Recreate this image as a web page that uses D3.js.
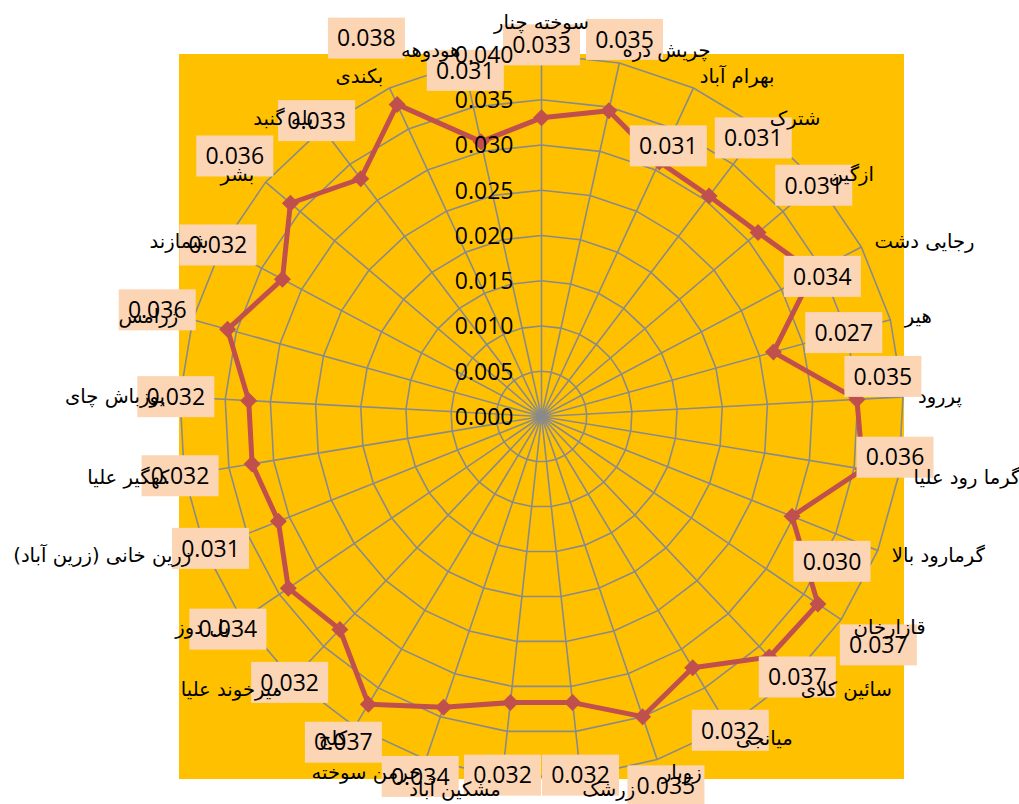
<!DOCTYPE html>
<html>
<head>
<meta charset="utf-8">
<script src="https://cdn.jsdelivr.net/npm/d3@7.9.0/dist/d3.min.js"></script>
<style>
  html, body { margin: 0; padding: 0; background: #fff; }
  svg { display: block; }
</style>
</head>
<body>
<div id="chart"></div>
<script>
// categories, clockwise from the top
const villages = [
  "سوخته چنار", "چریش دره", "بهرام آباد", "شترک", "ازگین", "رجایی دشت",
  "هیر", "پررود", "گرما رود علیا", "گرمارود بالا", "قازارخان", "سائین کلای",
  "میانجی", "زوبار", "زرشک", "مشکین آباد", "خرمن سوخته", "کلج",
  "میرخوند علیا", "بل دوز", "زرین خانی (زرین آباد)", "کهگیر علیا",
  "یوزباش چای", "ژرامس", "شمازند", "بشر", "پله گنبد", "بکندی", "هودوهه"
];

// series values
const values = [
  0.0330, 0.0346, 0.0310, 0.0306, 0.0314, 0.0340,
  0.0266, 0.0349, 0.0360, 0.0298, 0.0369, 0.0366,
  0.0324, 0.0350, 0.0318, 0.0318, 0.0339, 0.0371,
  0.0324, 0.0338, 0.0313, 0.0324,
  0.0324, 0.0360, 0.0324, 0.0364, 0.0330, 0.0380, 0.0311
];

// radial axis
const axisMax = 0.04;
const axisTicks = [0, 0.005, 0.010, 0.015, 0.020, 0.025, 0.030, 0.035, 0.040];

// labels that were dragged off their default spot (offset from the point)
const movedLabels = { 2: [9, -16], 5: [9, 4], 7: [26, -23], 8: [32, -12], 9: [40, 45], 11: [28, 20], 17: [-25, 38] };

const width = 1019;
const height = 804;
const cx = 541.5;
const cy = 416.5;
const R = 362;

const svg = d3.select("#chart")
  .append("svg")
  .attr("width", width)
  .attr("height", height);

// plot area fill
svg.append("rect")
  .attr("x", 179).attr("y", 54)
  .attr("width", 725).attr("height", 725)
  .attr("fill", "#FFC000");

const r = d3.scaleLinear().domain([0, axisMax]).range([0, R]);
const angle = d3.scalePoint()
  .domain(d3.range(villages.length + 1))
  .range([0, 2 * Math.PI]);
const ang = i => angle(i);
const px = (i, v) => cx + r(v) * Math.sin(ang(i));
const py = (i, v) => cy - r(v) * Math.cos(ang(i));

const g = svg.append("g");

// grid polygons
g.append("g")
  .selectAll("polygon")
  .data(axisTicks.filter(t => t > 0))
  .join("polygon")
  .attr("points", t => villages.map((_, i) => [px(i, t), py(i, t)].join(",")).join(" "))
  .attr("fill", "none")
  .attr("stroke", "#8a8a8a")
  .attr("stroke-width", 1.6);

// spokes
g.append("g")
  .selectAll("line")
  .data(villages)
  .join("line")
  .attr("x1", cx).attr("y1", cy)
  .attr("x2", (d, i) => px(i, axisMax))
  .attr("y2", (d, i) => py(i, axisMax))
  .attr("stroke", "#8a8a8a")
  .attr("stroke-width", 1.6);

// series line
const line = d3.lineRadial()
  .angle((d, i) => ang(i))
  .radius(d => r(d))
  .curve(d3.curveLinearClosed);

g.append("path")
  .attr("transform", `translate(${cx},${cy})`)
  .attr("d", line(values))
  .attr("fill", "none")
  .attr("stroke", "#C0504D")
  .attr("stroke-width", 5)
  .attr("stroke-linejoin", "round");

// diamond markers
const m = 8.5;
g.append("g")
  .selectAll("path")
  .data(values)
  .join("path")
  .attr("transform", (d, i) => `translate(${px(i, d)},${py(i, d)})`)
  .attr("d", `M0,${-m}L${m},0L0,${m}L${-m},0Z`)
  .attr("fill", "#C0504D");

// data labels
const fmt = d3.format(".3f");
const labelPos = (d, i) => {
  if (movedLabels[i]) return [px(i, d) + movedLabels[i][0], py(i, d) + movedLabels[i][1]];
  return [px(i, d) + 73 * Math.sin(ang(i)), py(i, d) - 73 * Math.cos(ang(i))];
};

const labels = svg.append("g")
  .selectAll("g")
  .data(values)
  .join("g")
  .attr("transform", (d, i) => `translate(${labelPos(d, i)})`);

labels.append("rect")
  .attr("x", -38.5).attr("y", -20.5)
  .attr("width", 77).attr("height", 41)
  .attr("fill", "#FCD5B5");

labels.append("text")
  .attr("text-anchor", "middle")
  .attr("dy", "0.36em")
  .attr("font-family", "'Open Sans', sans-serif")
  .attr("font-size", 23)
  .attr("fill", "#000")
  .text(d => fmt(d));

// radial tick labels
svg.append("g")
  .selectAll("text")
  .data(axisTicks)
  .join("text")
  .attr("x", cx - 28)
  .attr("y", t => cy - r(t))
  .attr("dy", "0.36em")
  .attr("text-anchor", "end")
  .attr("font-family", "'Open Sans', sans-serif")
  .attr("font-size", 23)
  .attr("fill", "#000")
  .text(t => fmt(t));

// category labels
svg.append("g")
  .selectAll("text")
  .data(villages)
  .join("text")
  .each(function (d, i) {
    const s = Math.sin(ang(i));
    const c = Math.cos(ang(i));
    const ox = px(i, axisMax);
    const oy = py(i, axisMax);
    let anchor = "middle";
    let y = oy - c * 13;
    if (s > 0.05) anchor = "start";
    else if (s < -0.05) anchor = "end";
    else y = oy - c * 32;
    y = Math.min(y, 792);
    d3.select(this)
      .attr("x", ox + s * 15)
      .attr("y", y)
      .attr("dy", "0.35em")
      .attr("text-anchor", anchor);
  })
  .attr("font-family", "'DejaVu Sans', sans-serif")
  .attr("font-size", 19.6)
  .attr("fill", "#000")
  .text(d => d);
</script>
</body>
</html>
